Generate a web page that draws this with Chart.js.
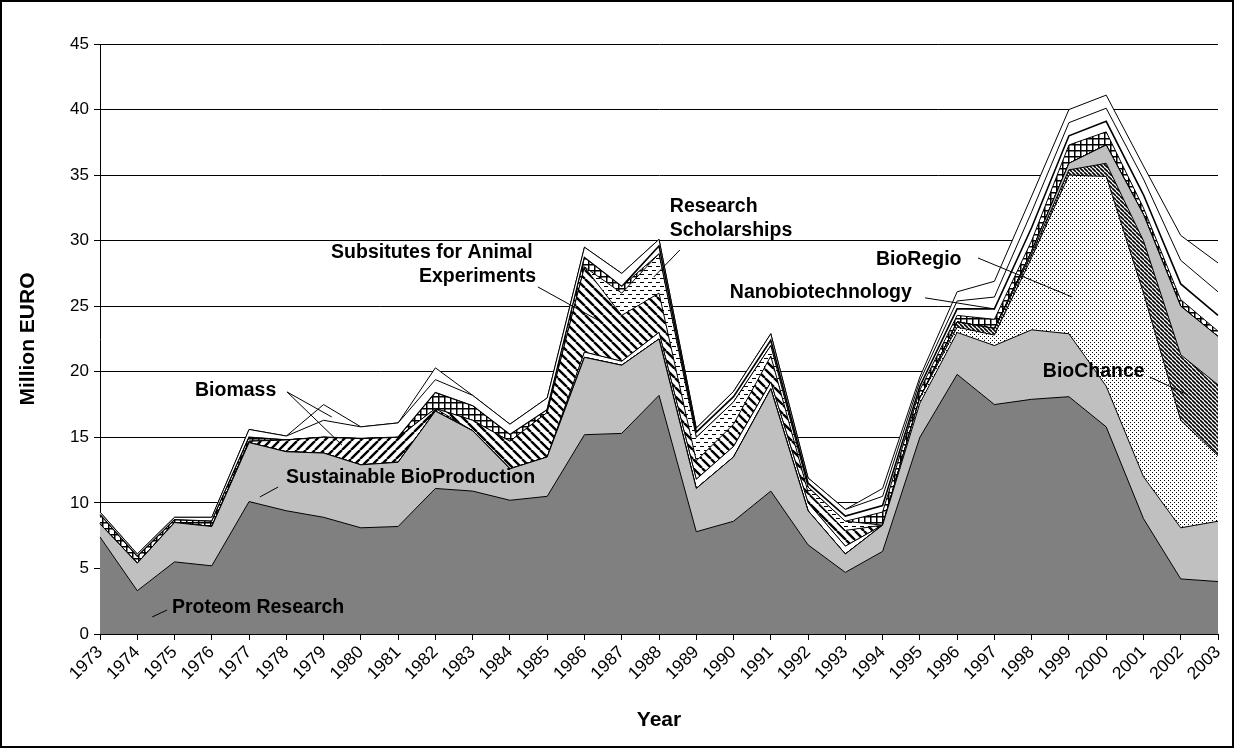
<!DOCTYPE html>
<html>
<head>
<meta charset="utf-8">
<script src="https://cdn.jsdelivr.net/npm/chart.js@4.4.1/dist/chart.umd.min.js"></script>
<style>
  html, body { margin: 0; padding: 0; background: #fff; }
  #wrap { width: 1235px; height: 749px; }
</style>
</head>
<body>
<div id="wrap"><canvas id="funding-chart" width="1235" height="749"></canvas></div>
<script>
const FONT = "'Liberation Sans', Arial, sans-serif";

const years = ["1973", "1974", "1975", "1976", "1977", "1978", "1979", "1980", "1981", "1982",
  "1983", "1984", "1985", "1986", "1987", "1988", "1989", "1990", "1991", "1992",
  "1993", "1994", "1995", "1996", "1997", "1998", "1999", "2000", "2001", "2002", "2003"];

const yTicks = [0, 5, 10, 15, 20, 25, 30, 35, 40, 45];

// million EURO per programme, bottom of the stack first
const proteomResearch = [7.4, 3.3, 5.5, 5.2, 10.1, 9.4, 8.9, 8.1, 8.2, 11.1, 10.9, 10.2, 10.5, 15.2, 15.3, 18.2,
  7.8, 8.6, 10.9, 6.8, 4.7, 6.3, 15.0, 19.8, 17.5, 17.9, 18.1, 15.8, 8.8, 4.2, 4.0];
const sustainableBioProduction = [1.0, 2.1, 3.0, 3.0, 4.5, 4.5, 4.9, 4.8, 4.9, 5.9, 4.6, 2.4, 3.0, 5.9, 5.2, 4.3,
  3.3, 4.9, 7.8, 2.6, 1.4, 2.0, 2.6, 3.2, 4.5, 5.3, 4.8, 3.1, 3.2, 3.9, 4.6];
const bioRegio = [0, 0, 0, 0, 0, 0, 0, 0, 0, 0, 0, 0, 0, 0, 0, 0,
  0, 0, 0, 0, 0, 0, 0.4, 0.4, 0.8, 5.5, 12.1, 16.0, 14.0, 8.2, 5.0];
const bioChance = [0, 0, 0, 0, 0, 0, 0, 0, 0, 0, 0, 0, 0, 0, 0, 0,
  0, 0, 0, 0, 0, 0, 0, 0.4, 0.5, 0.3, 0.4, 1.0, 4.0, 5.0, 5.4];
const genomeResearch = [0, 0, 0, 0, 0, 0, 0, 0, 0, 0, 0, 0, 0, 0, 0, 0,
  0, 0, 0, 0, 0, 0, 0, 0, 0, 0.2, 0.5, 1.4, 2.0, 3.7, 3.7];
const bioSafety = [0, 0, 0, 0, 0, 0, 0, 0, 0, 0, 0, 0, 0, 0.4, 0.3, 0.5,
  0.7, 0.8, 0.5, 0.6, 0.6, 0, 0, 0, 0, 0, 0, 0, 0, 0, 0];
const biomass = [0, 0, 0, 0, 0.1, 0.9, 1.2, 2.0, 1.9, 0.2, 0, 0, 0, 0, 0, 0,
  0, 0, 0, 0, 0, 0, 0, 0, 0, 0, 0, 0, 0, 0, 0];
const animalSubstitutes = [0, 0, 0, 0, 0, 0, 0, 0, 0, 0, 0.8, 2.1, 3.4, 6.5, 3.5, 3.0,
  1.4, 1.7, 2.0, 0.8, 1.2, 0, 0, 0, 0, 0, 0, 0, 0, 0, 0];
const researchScholarships = [0, 0, 0, 0, 0, 0, 0, 0, 0, 0, 0, 0, 0, 0, 1.7, 3.0,
  1.8, 1.7, 0.8, 0.4, 0.7, 0, 0, 0, 0, 0, 0, 0, 0, 0, 0];
const cellBiology = [0.7, 0.5, 0.2, 0.4, 0.3, 0, 0, 0, 0, 1.2, 1.1, 0.5, 0.2, 0.7, 0.5, 0,
  0, 0, 0, 0, 0, 1.0, 0.6, 0.5, 0.7, 0.8, 1.4, 1.0, 0.5, 0.5, 0.4];
const nanobiotechnology = [0, 0, 0, 0, 0, 0, 0, 0, 0, 0, 0, 0, 0, 0, 0, 0.6,
  0.4, 0.4, 0.4, 0.3, 0.4, 0.5, 0.3, 0.5, 0.8, 1.0, 0.7, 0.8, 1.0, 1.2, 1.2];
const otherProjects = [0.2, 0.2, 0.2, 0.3, 0.6, 0.3, 1.3, 0.9, 1.1, 1.0, 0.8, 0.8, 0.9, 0.8, 1.0, 0.5,
  0.3, 0.4, 0.5, 0.4, 0.5, 0.7, 0.4, 0.6, 0.9, 1.2, 1.0, 1.0, 1.2, 1.8, 1.8];
const infrastructure = [0, 0, 0, 0, 0, 0, 1.2, 0, 0, 0.9, 0, 0, 0, 0, 0, 0,
  0, 0, 0, 0, 0, 0.6, 0.3, 0.7, 1.2, 1.2, 1.0, 1.0, 1.0, 1.9, 2.2];

// label text, anchor in (year index, value) and leader lines in the same units
const notes = [
  { text: "Biomass", at: [2.55, 18.6], leaders: [[[5.02, 18.46], [6.22, 16.55]], [[5.02, 18.46], [6.49, 14.42]]] },
  { text: "Sustainable BioProduction", at: [4.99, 11.9], leaders: [[[4.78, 11.21], [4.29, 10.45]]] },
  { text: "Proteom Research", at: [1.93, 1.98], leaders: [[[1.80, 1.83], [1.40, 1.30]]] },
  { text: "Subsitutes for Animal", at: [6.2, 29.06], leaders: [] },
  { text: "Experiments", at: [8.56, 27.23], leaders: [[[11.75, 26.47], [13.5, 23.72]]] },
  { text: "Research", at: [15.29, 32.57], leaders: [] },
  { text: "Scholarships", at: [15.29, 30.74], leaders: [[[15.56, 29.29], [14.86, 27.23]]] },
  { text: "Nanobiotechnology", at: [16.9, 26.01], leaders: [[[22.14, 25.64], [24.01, 24.79]]] },
  { text: "BioRegio", at: [20.82, 28.53], leaders: [[[23.56, 28.68], [26.08, 25.71]]] },
  { text: "BioChance", at: [25.3, 19.98], leaders: [[[28.17, 19.6], [29.19, 18.24]]] }
];

function makePattern(size, draw) {
  const tile = document.createElement("canvas");
  tile.width = size;
  tile.height = size;
  const g = tile.getContext("2d");
  g.fillStyle = "#fff";
  g.fillRect(0, 0, size, size);
  g.fillStyle = "#000";
  g.strokeStyle = "#000";
  draw(g, size);
  return g.createPattern(tile, "repeat");
}

function hatch(size, width, forward) {
  return makePattern(size, (g, s) => {
    g.lineWidth = width;
    g.beginPath();
    [-s, 0, s].forEach((k) => {
      if (forward) {
        g.moveTo(k, s);
        g.lineTo(k + s, 0);
      } else {
        g.moveTo(k, 0);
        g.lineTo(k + s, s);
      }
    });
    g.stroke();
  });
}

const dotFill = makePattern(4, (g) => {
  g.fillRect(0, 0, 1, 1);
  g.fillRect(2, 2, 1, 1);
});
const denseHatch = hatch(4, 1.6, false);
const slashHatch = hatch(9, 2.4, true);
const backHatch = hatch(9, 2.4, false);
const dashFill = makePattern(8, (g) => {
  g.fillRect(0, 2, 4, 1);
  g.fillRect(4, 6, 4, 1);
});
const checkFill = makePattern(6, (g) => {
  g.fillRect(0, 0, 6, 1.5);
  g.fillRect(0, 0, 1.5, 6);
});

const layers = [
  { label: "Proteom Research", data: proteomResearch, fill: "#808080" },
  { label: "Sustainable BioProduction", data: sustainableBioProduction, fill: "#c0c0c0" },
  { label: "BioRegio", data: bioRegio, fill: dotFill },
  { label: "BioChance", data: bioChance, fill: denseHatch },
  { label: "Genome Research", data: genomeResearch, fill: "#c0c0c0" },
  { label: "Bio Safety", data: bioSafety, fill: "#ffffff" },
  { label: "Biomass", data: biomass, fill: slashHatch },
  { label: "Subsitutes for Animal Experiments", data: animalSubstitutes, fill: backHatch },
  { label: "Research Scholarships", data: researchScholarships, fill: dashFill },
  { label: "Cell Biology", data: cellBiology, fill: checkFill },
  { label: "Nanobiotechnology", data: nanobiotechnology, fill: "#ffffff", width: 1.6 },
  { label: "Other Projects", data: otherProjects, fill: "#ffffff" },
  { label: "Infrastructure", data: infrastructure, fill: "#ffffff" }
];

const labelPlugin = {
  id: "labelPlugin",
  afterDraw(chart) {
    const { ctx, scales } = chart;
    const px = (p) => [scales.x.getPixelForValue(p[0]), scales.y.getPixelForValue(p[1])];
    ctx.save();
    ctx.fillStyle = "#000";
    ctx.strokeStyle = "#000";
    ctx.lineWidth = 1;
    ctx.font = `bold 19.5px ${FONT}`;
    ctx.textAlign = "left";
    ctx.textBaseline = "middle";
    notes.forEach((note) => {
      const [tx, ty] = px(note.at);
      ctx.fillText(note.text, tx, ty);
      note.leaders.forEach(([from, to]) => {
        const [x1, y1] = px(from);
        const [x2, y2] = px(to);
        ctx.beginPath();
        ctx.moveTo(x1, y1);
        ctx.lineTo(x2, y2);
        ctx.stroke();
      });
    });

    // axis titles
    const area = chart.chartArea;
    ctx.font = `bold 21px ${FONT}`;
    ctx.textAlign = "center";
    ctx.fillText("Year", (area.left + area.right) / 2, 720);
    ctx.translate(28, (area.top + area.bottom) / 2);
    ctx.rotate(-Math.PI / 2);
    ctx.fillText("Million EURO", 0, 0);
    ctx.restore();

    // outer frame
    ctx.save();
    ctx.strokeStyle = "#000";
    ctx.lineWidth = 2;
    ctx.strokeRect(1, 1, chart.width - 3, chart.height - 3);
    ctx.restore();
  }
};

new Chart(document.getElementById("funding-chart").getContext("2d"), {
  type: "line",
  data: {
    labels: years,
    datasets: layers.map((layer, index) => ({
      label: layer.label,
      data: layer.data,
      backgroundColor: layer.fill,
      borderColor: "#000",
      borderWidth: layer.width || 1,
      fill: index === 0 ? "origin" : "-1",
      pointRadius: 0,
      tension: 0
    }))
  },
  options: {
    responsive: false,
    animation: false,
    events: [],
    layout: { padding: { left: 0, right: 17, top: 44, bottom: 0 } },
    plugins: {
      legend: { display: false },
      tooltip: { enabled: false }
    },
    scales: {
      x: {
        offset: false,
        grid: { drawOnChartArea: false, drawTicks: true, tickLength: 6, color: "#000" },
        border: { color: "#000", width: 1 },
        ticks: {
          autoSkip: false,
          minRotation: 45,
          maxRotation: 45,
          color: "#000",
          padding: 2,
          font: { family: FONT, size: 17.5 }
        },
        afterFit(scale) {
          scale.height = 115;
        }
      },
      y: {
        stacked: true,
        min: yTicks[0],
        max: yTicks[yTicks.length - 1],
        afterBuildTicks(scale) {
          scale.ticks = yTicks.map((value) => ({ value }));
        },
        ticks: {
          color: "#000",
          padding: 5,
          font: { family: FONT, size: 17 }
        },
        grid: { color: "#000", tickLength: 6 },
        border: { color: "#000" },
        afterFit(scale) {
          scale.width = 100;
        }
      }
    }
  },
  plugins: [labelPlugin]
});
</script>
</body>
</html>
